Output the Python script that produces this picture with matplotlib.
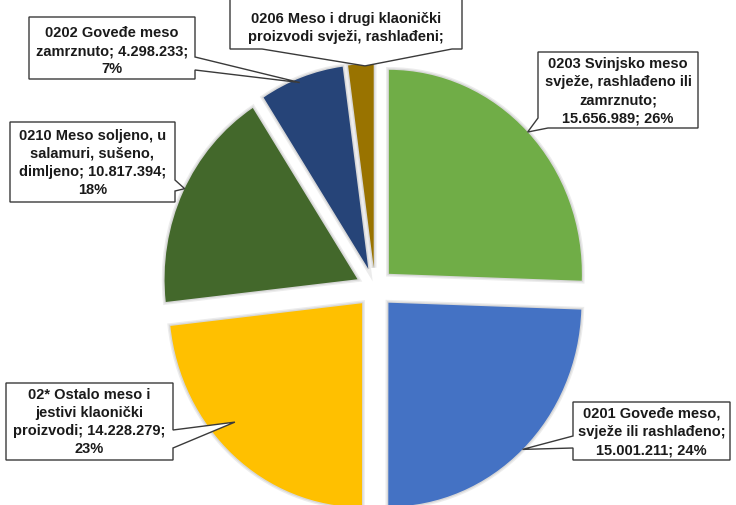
import matplotlib
matplotlib.use("Agg")
import matplotlib.pyplot as plt
import matplotlib.patheffects as pe
from matplotlib.patches import Polygon
import numpy as np

# ---- data ----
codes = ["0203 Svinjsko meso\nsvježe, rashlađeno ili\nzamrznuto;",
         "0201 Goveđe meso,\nsvježe ili rashlađeno;",
         "02* Ostalo meso i\njestivi klaonički\nproizvodi;",
         "0210 Meso soljeno, u\nsalamuri, sušeno,\ndimljeno;",
         "0202 Goveđe meso\nzamrznuto;",
         "0206 Meso i drugi klaonički\nproizvodi svježi, rashlađeni;"]
values = [15656989, 15001211, 14228279, 10817394, 4298233, 1300000]
colors = ["#70AD47", "#4472C4", "#FFC000", "#43682B", "#264478", "#997300"]

W, H = 736, 505
fig = plt.figure(figsize=(W / 100, H / 100), dpi=100)
ax = fig.add_axes([0, 0, 1, 1])

# pie geometry (pixels, origin top-left)
cx, cy = 375, 288
sx, sy = 193, 204

wedges, _ = ax.pie(values, colors=colors, startangle=90, counterclock=False,
                   explode=[0.1] * len(values), radius=1.0,
                   wedgeprops=dict(linewidth=0))
for w in wedges:
    w.set_path_effects([pe.Stroke(linewidth=4, foreground="#ececec"),
                        pe.Stroke(linewidth=2, foreground="#d8d8d8"), pe.Normal()])
ax.set_aspect("auto")
ax.set_xlim(-cx / sx, (W - cx) / sx)
ax.set_ylim(-(H - cy) / sy, cy / sy)
ax.set_axis_off()

ax2 = fig.add_axes([0, 0, 1, 1], zorder=5)
ax2.set_xlim(0, W)
ax2.set_ylim(H, 0)
ax2.set_axis_off()
ax2.patch.set_alpha(0)

total = sum(values)

def fmt(v):
    return f"{v:,}".replace(",", ".")

def label_text(i):
    v = values[i]
    p = round(v / total * 100)
    name = codes[i]
    lines = name.split("\n")
    if i in (0, 1):
        return f"{name}\n{fmt(v)}; {p}%"
    if i in (2, 3):
        return "\n".join(lines[:2]) + f"\n{lines[2]} {fmt(v)};\n{p}%"
    if i == 4:
        return f"{lines[0]}\n{lines[1]} {fmt(v)};\n{p}%"
    return name

# layout of callouts: box (x0,y0,x1,y1), pointer side, base, tip (clockwise offset deg, radius frac)
boxes = [(538, 52, 698, 128), (573, 402, 730, 460), (6, 383, 173, 460),
         (10, 122, 175, 202), (29, 17, 195, 79), (230, -40, 462, 49)]
sides = ["bl", "left", "right", "right", "right", "bottom"]
bases = [(118, 548), (436, 448), (430, 448), (180, 191), (57, 70), (262, 452)]
tip_off = [0, 0, 6.7, 1.0, -1.0, 1.2]
tip_r = [1.0, 1.0, 0.88, 1.0, 0.98, 0.99]
text_y = [91, 432, 422, 163, 51, 28]

def tip_px(i):
    w = wedges[i]
    a = np.deg2rad((w.theta1 + w.theta2) / 2 - tip_off[i])
    c = w.center
    px = c[0] + tip_r[i] * np.cos(a)
    py = c[1] + tip_r[i] * np.sin(a)
    disp = ax.transData.transform((px, py))
    return tuple(ax2.transData.inverted().transform(disp))

for i in range(len(values)):
    x0, y0, x1, y1 = boxes[i]
    t = tip_px(i)
    b = bases[i]
    s = sides[i]
    if s == "right":
        verts = [(x0, y0), (x1, y0), (x1, b[0]), t, (x1, b[1]), (x1, y1), (x0, y1)]
    elif s == "left":
        verts = [(x0, y0), (x1, y0), (x1, y1), (x0, y1), (x0, b[1]), t, (x0, b[0])]
    elif s == "bottom":
        verts = [(x0, y0), (x1, y0), (x1, y1), (b[1], y1), t, (b[0], y1), (x0, y1)]
    else:  # bottom-left corner
        verts = [(x0, y0), (x1, y0), (x1, y1), (b[1], y1), t, (x0, b[0])]
    poly = Polygon(verts, closed=True, facecolor="white", edgecolor="#3a3a3a",
                   linewidth=1.0, joinstyle="miter")
    ax2.add_patch(poly)
    ax2.text((x0 + x1) / 2, text_y[i], label_text(i), ha="center", va="center",
             fontsize=10.5, fontweight="bold", multialignment="center",
             family=["Liberation Sans", "DejaVu Sans"], color="#1a1a1a",
             linespacing=1.38)

fig.savefig("out.png", dpi=100)
